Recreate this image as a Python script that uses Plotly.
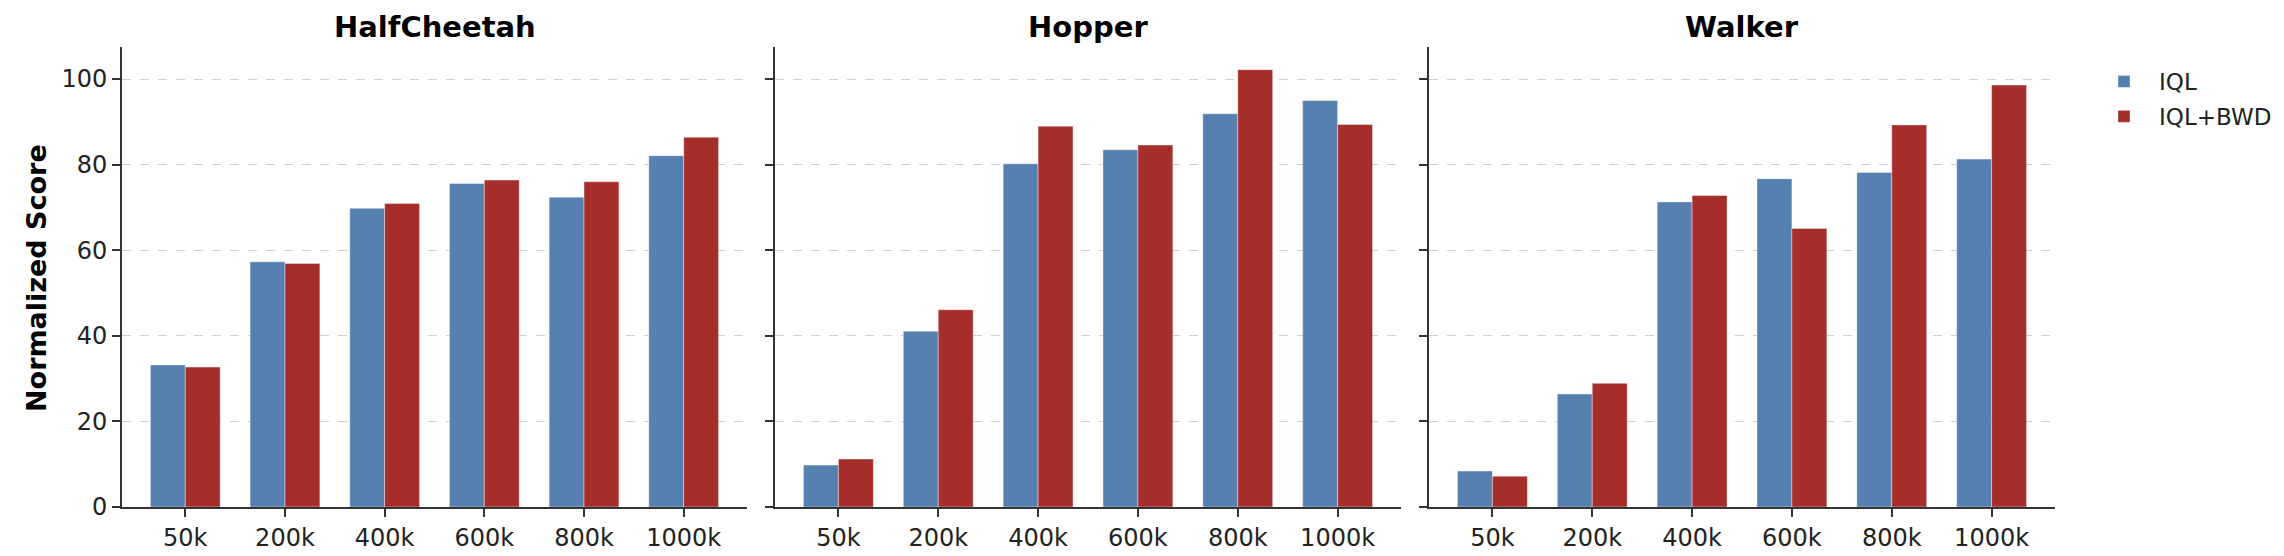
import plotly.graph_objects as go

colors = {
    "iql": "#5580B0",
    "bwd": "#A52E2B",
}

sizes = ["50k", "200k", "400k", "600k", "800k", "1000k"]
envs = ["HalfCheetah", "Hopper", "Walker"]

halfcheetah_iql = [33.2, 57.3, 69.8, 75.6, 72.4, 82.1]
halfcheetah_bwd = [32.7, 56.9, 70.9, 76.4, 76.0, 86.4]
hopper_iql = [9.8, 41.1, 80.2, 83.5, 91.9, 95.0]
hopper_bwd = [11.2, 46.1, 89.0, 84.6, 102.2, 89.4]
walker_iql = [8.4, 26.4, 71.3, 76.7, 78.2, 81.3]
walker_bwd = [7.2, 28.9, 72.8, 65.1, 89.3, 98.6]

scores = {
    "HalfCheetah": (halfcheetah_iql, halfcheetah_bwd),
    "Hopper": (hopper_iql, hopper_bwd),
    "Walker": (walker_iql, walker_bwd),
}

W, H = 2284, 556
bar_w = 0.35
x_pos = list(range(len(sizes)))

# panel extents in pixels (left, right)
panels = [(122, 747), (775, 1401), (1429, 2055)]
y_dom = [1 - 507 / H, 1 - 47 / H]

fig = go.Figure()

for i, env in enumerate(envs):
    iql, bwd = scores[env]
    ax = "" if i == 0 else str(i + 1)
    fig.add_trace(go.Bar(
        x=x_pos, y=iql, width=bar_w, offset=-bar_w,
        name="IQL", legendgroup="IQL", showlegend=(i == 0),
        marker=dict(color=colors["iql"], line=dict(color="rgba(255,255,255,0.5)", width=0.8)),
        xaxis="x" + ax, yaxis="y" + ax,
    ))
    fig.add_trace(go.Bar(
        x=x_pos, y=bwd, width=bar_w, offset=0,
        name="IQL+BWD", legendgroup="BWD", showlegend=(i == 0),
        marker=dict(color=colors["bwd"], line=dict(color="rgba(255,255,255,0.5)", width=0.8)),
        xaxis="x" + ax, yaxis="y" + ax,
    ))

axis_common = dict(
    showline=True, linecolor="#333333", linewidth=1.6,
    ticks="outside", ticklen=8, tickwidth=1.6, tickcolor="#333333",
    tickfont=dict(size=24, color="#222222"),
    zeroline=False, mirror=False, automargin=False,
)

layout = {}
for i, (l, r) in enumerate(panels):
    ax = "" if i == 0 else str(i + 1)
    layout["xaxis" + ax] = dict(
        axis_common,
        domain=[l / W, r / W],
        anchor="y" + ax,
        range=[-0.635, 5.635],
        tickvals=x_pos, ticktext=sizes,
        showgrid=False,
    )
    layout["yaxis" + ax] = dict(
        axis_common,
        domain=y_dom,
        anchor="x" + ax,
        range=[0, 107.5],
        tickvals=[0, 20, 40, 60, 80, 100],
        showticklabels=(i == 0),
        showgrid=True, gridcolor="#d0d0d0", griddash="dash", gridwidth=1.2,
    )

annotations = []
for i, (l, r) in enumerate(panels):
    annotations.append(dict(
        text="<b>%s</b>" % envs[i], x=(l + r) / 2 / W, y=1 - 27 / H,
        xref="paper", yref="paper", xanchor="center", yanchor="middle",
        showarrow=False, font=dict(size=29, color="black"),
    ))
annotations.append(dict(
    text="<b>Normalized Score</b>", x=36 / W, y=1 - 278 / H, textangle=-90,
    xref="paper", yref="paper", xanchor="center", yanchor="middle",
    showarrow=False, font=dict(size=27, color="black"),
))
annotations.append(dict(
    text="<b>Dataset</b>", x=(775 + 1401) / 2 / W, y=1 - 549 / H,
    xref="paper", yref="paper", xanchor="center", yanchor="top",
    showarrow=False, font=dict(size=27, color="black"),
))

fig.update_layout(
    **layout,
    annotations=annotations,
    barmode="overlay",
    width=W, height=H,
    margin=dict(l=0, r=0, t=0, b=0),
    font=dict(family="DejaVu Sans", color="#222222"),
    plot_bgcolor="white",
    paper_bgcolor="white",
    legend=dict(
        x=2089 / W, y=1 - 60 / H, xanchor="left", yanchor="top",
        font=dict(size=23, color="#222222"),
        bgcolor="rgba(0,0,0,0)", tracegroupgap=2, itemwidth=60,
    ),
)

# drop the default page margin so the figure sits at the window corner
fig.write_html("out.html", config={"displayModeBar": False},
               post_script="document.body.style.margin='0';")
